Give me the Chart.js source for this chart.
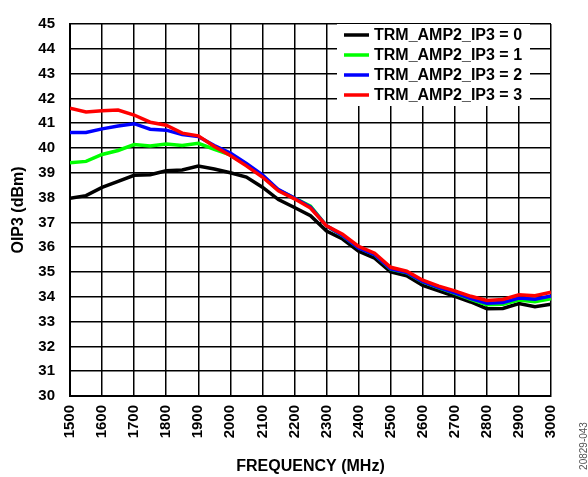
<!DOCTYPE html>
<html>
<head>
<meta charset="utf-8">
<script src="https://cdn.jsdelivr.net/npm/chart.js@4/dist/chart.umd.min.js"></script>
<style>
  body { margin: 0; background: #fff; }
</style>
</head>
<body>
<canvas id="myChart" width="588" height="477"></canvas>
<script>
var freqs = [1500, 1550, 1600, 1650, 1700, 1750, 1800, 1850, 1900, 1950, 2000, 2050, 2100, 2150, 2200, 2250,
  2300, 2350, 2400, 2450, 2500, 2550, 2600, 2650, 2700, 2750, 2800, 2850, 2900, 2950, 3000];

var ip3_0 = [37.97, 38.08, 38.41, 38.65, 38.9, 38.92, 39.08, 39.11, 39.27, 39.15, 39.0, 38.83, 38.42, 37.92, 37.6, 37.27,
  36.65, 36.33, 35.84, 35.56, 35.0, 34.85, 34.46, 34.24, 34.02, 33.79, 33.52, 33.53, 33.73, 33.6, 33.7];
var ip3_1 = [39.4, 39.46, 39.74, 39.9, 40.14, 40.08, 40.16, 40.1, 40.19, 39.95, 39.72, 39.32, 38.87, 38.3, 37.98, 37.66,
  36.86, 36.46, 35.98, 35.7, 35.12, 34.97, 34.6, 34.36, 34.14, 33.9, 33.68, 33.7, 33.87, 33.8, 33.92];
var ip3_2 = [40.63, 40.63, 40.77, 40.89, 40.98, 40.76, 40.72, 40.54, 40.46, 40.1, 39.8, 39.38, 38.92, 38.32, 37.98, 37.62,
  36.86, 36.47, 35.97, 35.7, 35.13, 34.98, 34.61, 34.37, 34.16, 33.93, 33.74, 33.77, 33.95, 33.9, 34.03];
var ip3_3 = [41.6, 41.45, 41.5, 41.53, 41.33, 41.04, 40.92, 40.6, 40.49, 40.06, 39.7, 39.28, 38.83, 38.27, 37.95, 37.58,
  36.86, 36.52, 36.03, 35.76, 35.19, 35.03, 34.67, 34.43, 34.24, 34.02, 33.85, 33.89, 34.08, 34.04, 34.19];

var seriesLabels = ["TRM_AMP2_IP3 = 0", "TRM_AMP2_IP3 = 1", "TRM_AMP2_IP3 = 2", "TRM_AMP2_IP3 = 3"];
var seriesColors = ["#000000", "#00ff00", "#0000ff", "#ff0000"];
var seriesValues = [ip3_0, ip3_1, ip3_2, ip3_3];

var FONT = "Arial, 'Liberation Sans', sans-serif";

function points(values) {
  return freqs.map(function (f, i) {
    return { x: f, y: values[i] };
  });
}

// legend box drawn inside the plot, plus the figure number
var boxLegend = {
  id: "boxLegend",
  afterDraw: function (chart) {
    var c = chart.ctx;
    c.save();
    c.fillStyle = "#fff";
    c.fillRect(337, 24, 193, 82);
    c.font = "bold 16px " + FONT;
    c.textBaseline = "middle";
    c.textAlign = "left";
    chart.data.datasets.forEach(function (ds, i) {
      var y = 35 + i * 20;
      c.strokeStyle = ds.borderColor;
      c.lineWidth = 3.5;
      c.beginPath();
      c.moveTo(344, y);
      c.lineTo(369, y);
      c.stroke();
      c.fillStyle = "#000";
      c.fillText(ds.label, 374, y + 1);
    });
    c.translate(584, 446);
    c.rotate(-Math.PI / 2);
    c.font = "10px " + FONT;
    c.fillStyle = "#555";
    c.textAlign = "center";
    c.fillText("20829-043", 0, 0);
    c.restore();
  },
};

var ctx = document.getElementById("myChart").getContext("2d");

var myChart = new Chart(ctx, {
  type: "line",
  data: {
    datasets: seriesValues.map(function (vals, i) {
      return {
        label: seriesLabels[i],
        data: points(vals),
        borderColor: seriesColors[i],
        backgroundColor: seriesColors[i],
        borderWidth: 3.5,
        pointRadius: 0,
        tension: 0,
        fill: false,
        order: 3 - i,
      };
    }),
  },
  options: {
    responsive: false,
    animation: false,
    layout: {
      padding: { top: 13, right: 37, bottom: 0, left: 0 },
    },
    plugins: {
      legend: { display: false },
      tooltip: { enabled: false },
    },
    scales: {
      x: {
        type: "linear",
        min: 1500,
        max: 3000,
        afterFit: function (s) { s.height = 81; },
        ticks: {
          stepSize: 100,
          autoSkip: false,
          maxRotation: 90,
          minRotation: 90,
          padding: 9,
          color: "#000",
          font: { family: FONT, size: 15, weight: "bold" },
          callback: function (v) { return String(v); },
        },
        grid: { color: "#000", lineWidth: 1.5, drawTicks: false },
        border: { display: true, color: "#000", width: 2 },
        title: {
          display: true,
          text: "FREQUENCY (MHz)",
          color: "#000",
          font: { family: FONT, size: 16, weight: "bold" },
          padding: { top: 0, bottom: 1 },
        },
      },
      y: {
        min: 30,
        max: 45,
        afterFit: function (s) { s.width = 70; },
        ticks: {
          stepSize: 1,
          padding: 15,
          color: "#000",
          font: { family: FONT, size: 15, weight: "bold" },
        },
        grid: { color: "#000", lineWidth: 1.5, drawTicks: false },
        border: { display: true, color: "#000", width: 2 },
        title: {
          display: true,
          text: "OIP3 (dBm)",
          color: "#000",
          font: { family: FONT, size: 16, weight: "bold" },
          padding: { top: 9, bottom: 0 },
        },
      },
    },
  },
  plugins: [boxLegend],
});
</script>
</body>
</html>
